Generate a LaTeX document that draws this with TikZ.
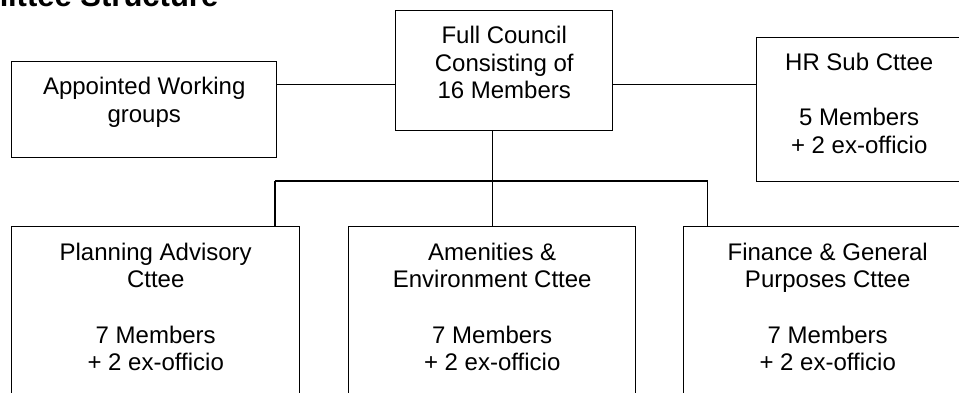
\documentclass[tikz,border=0pt]{standalone}
\usepackage{fontspec}
\setmainfont{Liberation Sans}
\begin{document}
\begin{tikzpicture}[x=1pt,y=-1pt,
  boxnode/.style={draw=black, line width=1.4pt, rectangle, inner sep=0pt, anchor=north west},
  txt/.style={align=center, inner sep=0pt, anchor=north, font=\fontsize{24}{27.6}\selectfont},
  conn/.style={draw=black, line width=1.4pt}]
\useasboundingbox (0,0) rectangle (959,392);
\clip (0,0) rectangle (959,392);
% title
\node[anchor=base east, inner sep=0pt, font=\fontsize{31}{31}\selectfont\bfseries] (title) at (218.5,6.5) {Committee Structure};
% boxes
\node[boxnode, minimum width=265pt, minimum height=96pt] (ap) at (11,61) {};
\node[boxnode, minimum width=217pt, minimum height=120pt] (cl) at (395,10) {};
\node[boxnode, minimum width=205pt, minimum height=144pt] (hr) at (756,37) {};
\node[boxnode, minimum width=288pt, minimum height=180pt] (pa) at (11,226) {};
\node[boxnode, minimum width=287pt, minimum height=180pt] (am) at (348,226) {};
\node[boxnode, minimum width=288pt, minimum height=180pt] (fg) at (683,226) {};
% texts
\node[txt] (apt) at ([yshift=-16.2pt]ap.north) {Appointed Working\\groups};
\node[txt] (clt) at ([yshift=-16.2pt]cl.north) {Full Council\\Consisting of\\16 Members};
\node[txt] (hrt) at ([yshift=-16.2pt]hr.north) {HR Sub Cttee\\[27.6pt]5 Members\\+ 2 ex-officio};
\node[txt] (pat) at ([yshift=-16.7pt]pa.north) {Planning Advisory\\Cttee\\[27.6pt]7 Members\\+ 2 ex-officio};
\node[txt] (amt) at ([yshift=-16.7pt]am.north) {Amenities \&\\Environment Cttee\\[27.6pt]7 Members\\+ 2 ex-officio};
\node[txt] (fgt) at ([yshift=-16.7pt]fg.north) {Finance \& General\\Purposes Cttee\\[27.6pt]7 Members\\+ 2 ex-officio};
% connectors
\draw[conn] ([yshift=-23.3pt]ap.north east) -- ([yshift=-74.3pt]cl.north west);
\draw[conn] ([yshift=-74.3pt]cl.north east) -- ([yshift=-47.3pt]hr.north west);
\coordinate (busL) at (275,181);
\coordinate (busR) at (707.7,181);
\draw[conn] (am.north |- cl.south) -- (am.north);
\draw[conn] (busL) -- (busR);
\draw[conn] (busL) -- (busL |- pa.north);
\draw[conn] (busR) -- (busR |- fg.north);
\end{tikzpicture}
\end{document}
